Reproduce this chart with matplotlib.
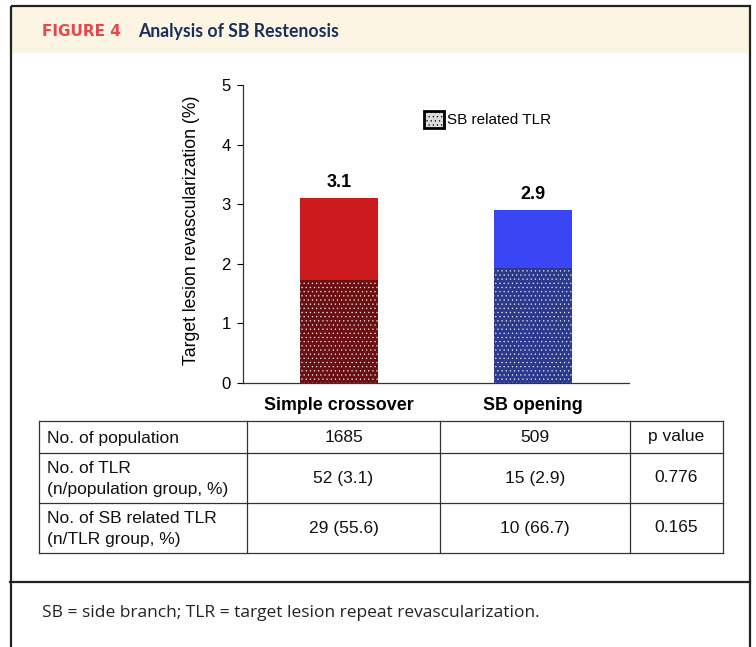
import numpy as np
import matplotlib
matplotlib.use("Agg")
import matplotlib.pyplot as plt
from matplotlib.patches import Rectangle, Patch

plt.rcParams["hatch.linewidth"] = 0.4

# data
groups = ["Simple crossover", "SB opening"]
tlr_total = [3.1, 2.9]
sb_related = [1.72, 1.93]
top_colors = ["#cc1a1f", "#3a46f4"]
base_colors = ["#6a1013", "#2b3a8c"]

row_labels = ["No. of population",
              "No. of TLR\n(n/population group, %)",
              "No. of SB related TLR\n(n/TLR group, %)"]
col_simple = ["1685", "52 (3.1)", "29 (55.6)"]
col_sb = ["509", "15 (2.9)", "10 (66.7)"]
col_p = ["p value", "0.776", "0.165"]

W, H = 756, 647
fig = plt.figure(figsize=(W / 100, H / 100), dpi=100)

# frame / overlay in pixel coords
bg = fig.add_axes([0, 0, 1, 1])
bg.set_xlim(0, W)
bg.set_ylim(H, 0)
bg.axis("off")
bg.add_patch(Rectangle((12, 7), 737, 46, facecolor="#fdf5e3", edgecolor="none"))
bg.add_patch(Rectangle((10.5, 5.5), 739, 660, facecolor="none", edgecolor="#222222", lw=1.6))
bg.plot([10, 750], [582, 582], color="#222222", lw=1.6)
bg.text(42, 31, "FIGURE 4", color="#e8464b", fontsize=11, fontweight="bold",
        family="DejaVu Sans", va="center", ha="left")
bg.text(138, 31, "Analysis of SB Restenosis", color="#1b2f5c", fontsize=12.7,
        fontweight="bold", family="Lato", va="center", ha="left")
bg.text(42, 613, "SB = side branch; TLR = target lesion repeat revascularization.",
        fontsize=12.5, family="Open Sans", va="center", ha="left", color="#222222")

# table
tx = [39, 247, 440, 630, 723]
ty = [421, 453, 503, 553]
for x in tx:
    bg.plot([x, x], [ty[0], ty[-1]], color="#333333", lw=0.9)
for y in ty:
    bg.plot([tx[0], tx[-1]], [y, y], color="#333333", lw=0.9)
tfont = dict(family="Liberation Sans", fontsize=12.5, color="#111111", va="center")
for i in range(3):
    yc = (ty[i] + ty[i + 1]) / 2
    bg.text(tx[0] + 8, yc + 1, row_labels[i], ha="left", linespacing=1.55, **tfont)
    bg.text((tx[1] + tx[2]) / 2, yc, col_simple[i], ha="center", **tfont)
    bg.text((tx[2] + tx[3]) / 2, yc, col_sb[i], ha="center", **tfont)
    bg.text((tx[3] + tx[4]) / 2, yc, col_p[i], ha="center", **tfont)

# bar chart
ax = fig.add_axes([243 / W, (H - 383) / H, (629 - 243) / W, (383 - 85) / H])
x = np.arange(len(groups))
bw = 0.397
for i in range(len(groups)):
    ax.bar(x[i], tlr_total[i], bw, color=top_colors[i], edgecolor="none", zorder=2)
    ax.bar(x[i], sb_related[i], bw, color=base_colors[i], edgecolor="#e8e8e8",
           linewidth=0, hatch="....", zorder=3)
    ax.annotate(f"{tlr_total[i]:.1f}", (x[i], tlr_total[i]), xytext=(0, 5),
                textcoords="offset points", ha="center", va="bottom",
                fontsize=13, fontweight="bold", family="Liberation Sans")

ax.set_xlim(-0.4948, 1.4948)
ax.set_ylim(0, 5)
ax.set_yticks(range(6))
ax.set_xticks(x)
ax.set_xticklabels(groups, fontsize=12.9, fontweight="bold", family="Liberation Sans")
ax.tick_params(axis="x", length=0, pad=10)
ax.tick_params(axis="y", direction="out", length=4, width=0.8, pad=5, labelsize=12)
for lab in ax.get_yticklabels():
    lab.set_family("Liberation Sans")
for s in ["top", "right"]:
    ax.spines[s].set_visible(False)
for s in ["left", "bottom"]:
    ax.spines[s].set_linewidth(0.9)
    ax.spines[s].set_color("#333333")
ax.set_ylabel("Target lesion revascularization (%)", fontsize=12.7,
              family="Liberation Sans")
ax.yaxis.set_label_coords(-0.111, 0.513)

leg_handle = Patch(facecolor="#dcdcdc", edgecolor="black", hatch="....", linewidth=2)
ax.legend([leg_handle], ["SB related TLR"], loc="upper left",
          bbox_to_anchor=(0.432, 0.96), frameon=False, handlelength=1.35,
          handleheight=1.35, handletextpad=0.2,
          prop=dict(family="Liberation Sans", size=11))

fig.savefig("out.png", dpi=100)
